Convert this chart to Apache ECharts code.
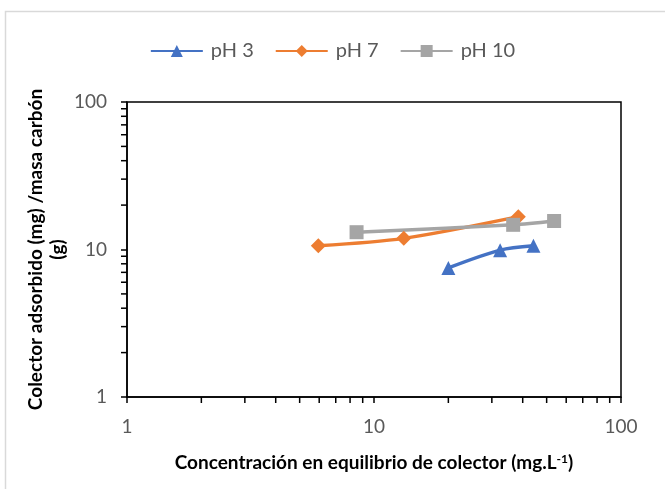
<!DOCTYPE html>
<html>
<head>
<meta charset="utf-8">
<script src="https://cdn.jsdelivr.net/npm/echarts@6/dist/echarts.min.js"></script>
<style>
  html, body { margin: 0; padding: 0; background: #fff; }
  #chart { width: 665px; height: 489px; }
</style>
</head>
<body>
<div id="chart"></div>
<script>
// datos (x: mg/L, y: mg/g)
var ph3X = [20.0, 32.4, 44.2];
var ph3Y = [7.5, 9.9, 10.6];
var ph7X = [5.95, 13.2, 38.4];
var ph7Y = [10.6, 11.9, 16.7];
var ph10X = [8.5, 36.6, 53.6];
var ph10Y = [13.1, 14.7, 15.6];
var seriesNames = ['pH 3', 'pH 7', 'pH 10'];
// marcas menores del eje log
var minorTicks = [2, 3, 4, 5, 6, 7, 8, 9, 20, 30, 40, 50, 60, 70, 80, 90];

function pairs(xs, ys) {
  var out = [];
  for (var i = 0; i < xs.length; i++) out.push([xs[i], ys[i]]);
  return out;
}

var font = 'Lato, "Open Sans", sans-serif';
var myChart = echarts.init(document.getElementById('chart'));

// ticks menores dibujados con la escala del eje
function minorTickSeries(dir) {
  return {
    type: 'custom',
    silent: true,
    z: 5,
    data: minorTicks,
    encode: dir === 'x' ? { x: 0 } : { y: 0 },
    renderItem: function (params, api) {
      var v = api.value(0);
      var p = dir === 'x' ? api.coord([v, 1]) : api.coord([1, v]);
      var shape = dir === 'x'
        ? { x1: p[0], y1: p[1], x2: p[0], y2: p[1] + 6 }
        : { x1: p[0] - 6, y1: p[1], x2: p[0], y2: p[1] };
      return { type: 'line', shape: shape, style: { stroke: '#000', lineWidth: 1.5 } };
    }
  };
}

myChart.setOption({
  animation: false,
  textStyle: { fontFamily: font },
  graphic: [{
    type: 'rect',
    shape: { x: 5.5, y: 11.5, width: 700, height: 500 },
    style: { fill: null, stroke: '#d9d9d9', lineWidth: 1.5 },
    silent: true
  }],
  legend: {
    top: 36,
    left: 'center',
    data: seriesNames,
    itemWidth: 52,
    itemHeight: 15,
    itemGap: 21,
    textStyle: { fontSize: 20, color: '#595959', fontFamily: font, padding: [0, 0, 0, 3] }
  },
  grid: {
    left: 127, top: 102, right: 44, bottom: 92,
    show: true, borderColor: '#000', borderWidth: 1.5
  },
  xAxis: {
    type: 'log', logBase: 10, min: 1, max: 100,
    name: 'Concentración en equilibrio de colector (mg.L{s|-1})',
    nameLocation: 'middle', nameGap: 56, nameMoveOverlap: false,
    nameTextStyle: {
      fontSize: 19, fontWeight: 'bold', color: '#000', fontFamily: font,
      rich: { s: { fontSize: 12, fontWeight: 'bold', verticalAlign: 'top', padding: [0, 0, 8, 0], fontFamily: font } }
    },
    axisLine: { lineStyle: { color: '#000', width: 1.5 } },
    axisTick: { show: true, inside: false, length: 6, lineStyle: { color: '#000', width: 1.5 } },
    axisLabel: { fontSize: 19, color: '#595959', margin: 20, fontFamily: font },
    splitLine: { show: false }
  },
  yAxis: {
    type: 'log', logBase: 10, min: 1, max: 100,
    name: 'Colector adsorbido (mg) /masa carbón\n(g)',
    nameLocation: 'middle', nameGap: 58, nameMoveOverlap: false,
    nameTextStyle: { fontSize: 19, fontWeight: 'bold', color: '#000', lineHeight: 22, fontFamily: font },
    axisLine: { lineStyle: { color: '#000', width: 1.5 } },
    axisTick: { show: true, inside: false, length: 6, lineStyle: { color: '#000', width: 1.5 } },
    axisLabel: { fontSize: 19, color: '#595959', margin: 20, fontFamily: font },
    splitLine: { show: false }
  },
  series: [
    {
      name: 'pH 3', type: 'line', smooth: 0.3,
      data: pairs(ph3X, ph3Y),
      symbol: 'triangle', symbolSize: 14,
      lineStyle: { color: '#4472C4', width: 3.5 },
      itemStyle: { color: '#4472C4' }
    },
    {
      name: 'pH 7', type: 'line', smooth: 0.3,
      data: pairs(ph7X, ph7Y),
      symbol: 'diamond', symbolSize: 15,
      lineStyle: { color: '#ED7D31', width: 3.5 },
      itemStyle: { color: '#ED7D31' }
    },
    {
      name: 'pH 10', type: 'line', smooth: 0.3,
      data: pairs(ph10X, ph10Y),
      symbol: 'rect', symbolSize: 14,
      lineStyle: { color: '#A5A5A5', width: 3.5 },
      itemStyle: { color: '#A5A5A5' }
    },
    minorTickSeries('x'),
    minorTickSeries('y')
  ]
});
</script>
</body>
</html>
